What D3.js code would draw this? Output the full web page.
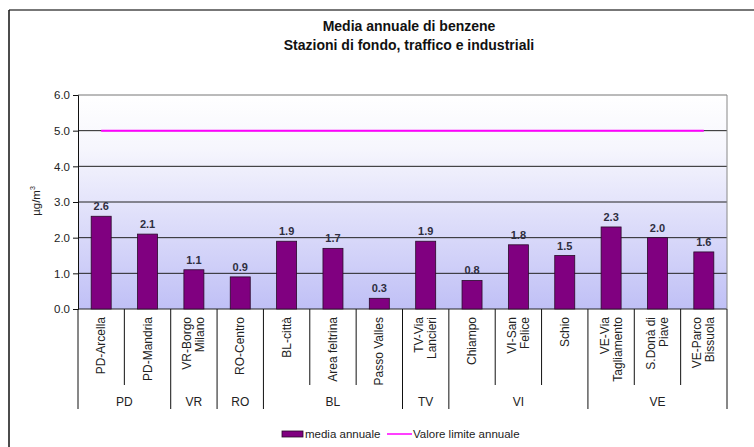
<!DOCTYPE html>
<html>
<head>
<meta charset="utf-8">
<script src="https://cdn.jsdelivr.net/npm/d3@7"></script>
<style>
  body { margin: 0; background: #fff; }
  text { font-family: "Liberation Sans", Arial, sans-serif; }
</style>
</head>
<body>
<div id="content"></div>
<script>
// station labels (lines), group of each station, annual means
var stations = [
    ["PD-Arcella"], ["PD-Mandria"], ["VR-Borgo", "Milano"], ["RO-Centro"],
    ["BL-città"], ["Area feltrina"], ["Passo Valles"], ["TV-Via", "Lancieri"],
    ["Chiampo"], ["VI-San", "Felice"], ["Schio"], ["VE-Via", "Tagliamento"],
    ["S.Donà di", "Piave"], ["VE-Parco", "Bissuola"]
];
var groups = ["PD", "PD", "VR", "RO", "BL", "BL", "BL", "TV", "VI", "VI", "VI", "VE", "VE", "VE"];
var values = [2.6, 2.1, 1.1, 0.9, 1.9, 1.7, 0.3, 1.9, 0.8, 1.8, 1.5, 2.3, 2.0, 1.6];
var limit = 5.0;
var yTicks = [0, 1, 2, 3, 4, 5, 6];

var W = 754, H = 447;
var margin = { top: 95, right: 27, bottom: 138, left: 78 },
    w = W - margin.left - margin.right,
    h = H - margin.top - margin.bottom;

var svg = d3.select("#content").append("svg")
    .attr("width", W)
    .attr("height", H);

// outer frame
svg.append("line").attr("x1", 9).attr("x2", W).attr("y1", 10).attr("y2", 10)
    .attr("stroke", "#777").attr("stroke-width", 2);
svg.append("line").attr("x1", 9).attr("x2", 9).attr("y1", 10).attr("y2", H)
    .attr("stroke", "#111").attr("stroke-width", 1.5);

// title
svg.append("text").attr("x", 409).attr("y", 31).attr("text-anchor", "middle")
    .style("font-size", "14px").style("font-weight", "bold").attr("fill", "#111")
    .text("Media annuale di benzene");
svg.append("text").attr("x", 409).attr("y", 50).attr("text-anchor", "middle")
    .style("font-size", "14px").style("font-weight", "bold").attr("fill", "#111")
    .text("Stazioni di fondo, traffico e industriali");

var defs = svg.append("defs");
var grad = defs.append("linearGradient").attr("id", "bg")
    .attr("x1", 0).attr("y1", 0).attr("x2", 0).attr("y2", 1);
grad.append("stop").attr("offset", "0%").attr("stop-color", "#ffffff");
grad.append("stop").attr("offset", "25%").attr("stop-color", "#f6f6fd");
grad.append("stop").attr("offset", "100%").attr("stop-color", "#c0c0f6");

var g = svg.append("g")
    .attr("transform", "translate(" + margin.left + "," + margin.top + ")");

var xScale = d3.scaleBand().domain(d3.range(stations.length)).range([0, w]).paddingInner(0).paddingOuter(0),
    yScale = d3.scaleLinear().domain([0, 6]).range([h, 0]);

g.append("rect").attr("width", w).attr("height", h).attr("fill", "url(#bg)");

// gridlines
g.selectAll(".grid").data(yTicks).enter().append("line")
    .attr("class", "grid")
    .attr("x1", 0).attr("x2", w)
    .attr("y1", function(d) { return yScale(d); })
    .attr("y2", function(d) { return yScale(d); })
    .attr("stroke", function(d) { return d == 6 ? "#777" : "#222"; })
    .attr("stroke-width", 1);
g.append("line").attr("x1", w).attr("x2", w).attr("y1", 0).attr("y2", h)
    .attr("stroke", "#888");

// y axis
var yAxis = d3.axisLeft(yScale).tickValues(yTicks).tickFormat(d3.format(".1f")).tickSize(5).tickPadding(3);
var ya = g.append("g").call(yAxis);
ya.select(".domain").attr("stroke", "#111");
ya.selectAll("line").attr("stroke", "#111");
ya.selectAll("text").style("font-size", "11.5px").attr("fill", "#222");

svg.append("text")
    .attr("transform", "translate(40,201) rotate(-90)")
    .attr("text-anchor", "middle")
    .style("font-size", "11.5px").attr("fill", "#222")
    .html("µg/m<tspan dy='-5' style='font-size:7px'>3</tspan>");

// bars
var bw = 20;
g.selectAll(".bar").data(values).enter().append("rect")
    .attr("class", "bar")
    .attr("x", function(d, i) { return xScale(i) + xScale.bandwidth() / 2 - bw / 2; })
    .attr("y", function(d) { return yScale(d); })
    .attr("width", bw)
    .attr("height", function(d) { return h - yScale(d); })
    .attr("fill", "#800080")
    .attr("stroke", "#2a0a2a")
    .attr("stroke-width", 0.8);

g.selectAll(".val").data(values).enter().append("text")
    .attr("class", "val")
    .attr("x", function(d, i) { return xScale(i) + xScale.bandwidth() / 2; })
    .attr("y", function(d) { return yScale(d) - 6; })
    .attr("text-anchor", "middle")
    .style("font-size", "11px").style("font-weight", "bold")
    .attr("fill", "#2e2e40")
    .text(function(d) { return d3.format(".1f")(d); });

// limit line, centre of first to centre of last station
g.append("line")
    .attr("x1", xScale(0) + xScale.bandwidth() / 2)
    .attr("x2", xScale(stations.length - 1) + xScale.bandwidth() / 2)
    .attr("y1", yScale(limit)).attr("y2", yScale(limit))
    .attr("stroke", "#ff00ff").attr("stroke-width", 2);

// category axis
var sepY = 76, groupSepY = 100;
g.append("line").attr("x1", 0).attr("x2", 0).attr("y1", h).attr("y2", h + groupSepY).attr("stroke", "#111");
stations.forEach(function(s, i) {
    var xr = xScale(i) + xScale.bandwidth();
    var last = i == stations.length - 1 || groups[i + 1] != groups[i];
    g.append("line").attr("x1", xr).attr("x2", xr)
        .attr("y1", h).attr("y2", h + (last ? groupSepY : sepY))
        .attr("stroke", "#111");
    var cx = xScale(i) + xScale.bandwidth() / 2;
    var t = g.append("text")
        .attr("transform", "translate(" + cx + "," + (h + 8) + ") rotate(-90)")
        .attr("text-anchor", "end")
        .style("font-size", "12px").attr("fill", "#222");
    if (s.length == 1) {
        t.append("tspan").attr("x", 0).attr("y", 4).text(s[0]);
    } else {
        t.append("tspan").attr("x", 0).attr("y", -2.5).text(s[0]);
        t.append("tspan").attr("x", 0).attr("y", 10.5).text(s[1]);
    }
});

// group labels
var groupNames = Array.from(new Set(groups));
groupNames.forEach(function(gn) {
    var idx = d3.range(groups.length).filter(function(i) { return groups[i] == gn; });
    var x0 = xScale(idx[0]), x1 = xScale(idx[idx.length - 1]) + xScale.bandwidth();
    g.append("text").attr("x", (x0 + x1) / 2).attr("y", h + 97)
        .attr("text-anchor", "middle")
        .style("font-size", "12px").attr("fill", "#222")
        .text(gn);
});

// legend
var lg = svg.append("g").attr("transform", "translate(282,434)");
lg.append("rect").attr("x", 0).attr("y", -3).attr("width", 21).attr("height", 6)
    .attr("fill", "#800080").attr("stroke", "#2a0a2a").attr("stroke-width", 0.8);
lg.append("text").attr("x", 23).attr("y", 4).style("font-size", "11.5px").attr("fill", "#222")
    .text("media annuale");
lg.append("line").attr("x1", 105).attr("x2", 130).attr("y1", 0).attr("y2", 0)
    .attr("stroke", "#ff00ff").attr("stroke-width", 1.5);
lg.append("text").attr("x", 131).attr("y", 4).style("font-size", "11.5px").attr("fill", "#222")
    .text("Valore limite annuale");
</script>
</body>
</html>
